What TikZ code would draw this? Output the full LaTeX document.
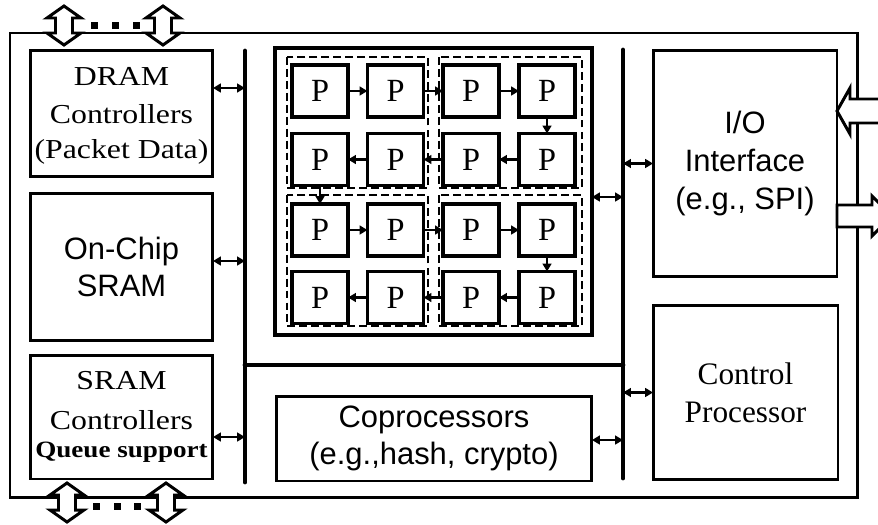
\documentclass[tikz,border=0pt]{standalone}
\usepackage{fontspec}
\setmainfont{Liberation Serif}
\newfontfamily\wideserif[FakeStretch=1.16]{Liberation Serif}
\newfontfamily\arialfont{Liberation Sans}
\usetikzlibrary{arrows.meta}

\begin{document}
\begin{tikzpicture}[x=0.02cm, y=-0.02cm,
  box/.style={draw, line width=1.7pt, inner sep=0pt, outer sep=0pt, align=center},
  serif/.style={font=\wideserif\fontsize{15.6}{20.7}\selectfont},
  sans/.style={font=\arialfont\fontsize{17.6}{21.5}\selectfont},
  pbox/.style={draw, line width=1.9pt, inner sep=0pt, outer sep=0pt, minimum width=1.12cm, minimum height=1.04cm, font=\fontsize{18.4}{20}\selectfont},
  group/.style={draw, line width=1.6pt, dash pattern=on 4.5pt off 2.3pt},
  bus/.style={line width=2.8pt, line cap=round},
  link/.style={{Triangle[length=4.5pt,width=5pt]}-{Triangle[length=4.5pt,width=5pt]}, line width=1.2pt},
  flow/.style={-{Triangle[length=4.5pt,width=5pt]}, line width=1.2pt},
  port/.style={draw, fill=white, line width=1.7pt, line join=miter}]
\useasboundingbox (0,0) rectangle (878,524);
\clip (0,0) rectangle (878,524);

% chip outline
\draw[line width=1.7pt] (10,33) rectangle (857,497);

% left column
\node[box, serif, minimum width=3.66cm, minimum height=2.54cm] (dram) at (121.5,113.5) {\rule{0pt}{13pt}DRAM\\[1pt]Controllers\\[-1pt](Packet Data)};
\node[box, sans, minimum width=3.66cm, minimum height=2.96cm] (sram) at (121.5,267) {On-Chip\\SRAM};
\node[box, serif, minimum width=3.66cm, minimum height=2.48cm] (sramc) at (121.5,417) {SRAM\\[2pt]Controllers\\[-5pt]{\fontsize{13.3}{15}\bfseries Queue support}};

% processor array
\node[box, line width=1.9pt, minimum width=6.34cm, minimum height=5.74cm] (parray) at (433.5,191.5) {};
\draw[group] (287,57) rectangle (428,188);
\draw[group] (439,57) rectangle (582,188);
\draw[group] (287,195) rectangle (428,326);
\draw[group] (439,195) rectangle (582,326);
\foreach \r/\y in {1/91,2/159.5,3/230,4/297.5}
  \foreach \c/\x in {1/320,2/395.5,3/471,4/547}
    \node[pbox] (p\r\c) at (\x,\y) {P};
\foreach \a/\b in {11/12,12/13,13/14,14/24,24/23,23/22,22/21,21/31,31/32,32/33,33/34,34/44,44/43,43/42,42/41}
  \draw[flow] (p\a) -- (p\b);

% coprocessors and right column
\node[box, sans, minimum width=6.32cm, minimum height=1.7cm] (copro) at (434,438.5) {Coprocessors\\(e.g.,hash, crypto)};
\node[box, sans, minimum width=3.68cm, minimum height=4.54cm] (io) at (745,163.5) {I/O\\Interface\\(e.g., SPI)};
\node[box, font=\fontsize{17.8}{21.5}\selectfont, minimum width=3.7cm, minimum height=3.5cm] (ctrl) at (745.5,392.5) {Control\\Processor};

% buses
\coordinate (lbus) at (245,51);
\coordinate (lbusend) at (245,482);
\coordinate (rbus) at (623,50);
\coordinate (rbusend) at (623,478);
\coordinate (hbus) at (245,365);
\draw[bus] (lbus) -- (lbusend);
\draw[bus] (rbus) -- (rbusend);
\draw[bus] (hbus) -- (hbus -| rbus);

% bus links
\draw[link] (dram.east |- 0,88) -- (lbus |- 0,88);
\draw[link] (sram.east |- 0,261) -- (lbus |- 0,261);
\draw[link] (sramc.east |- 0,437) -- (lbus |- 0,437);
\draw[link] (parray.east |- 0,197) -- (rbus |- 0,197);
\draw[link] (copro.east |- 0,440) -- (rbus |- 0,440);
\draw[link] (rbus |- io.west) -- (io.west);
\draw[link] (rbus |- ctrl.west) -- (ctrl.west);

% external ports
\foreach \cx in {64,163}
  \draw[port] (\cx,6) -- ++(17,12) -- ++(-8.5,0) -- ++(0,15) -- ++(8.5,0) -- ++(-17,12) -- ++(-17,-12) -- ++(8.5,0) -- ++(0,-15) -- ++(-8.5,0) -- cycle;
\foreach \cx in {67,166}
  \draw[port] (\cx,483) -- ++(17,12) -- ++(-8.5,0) -- ++(0,15) -- ++(8.5,0) -- ++(-17,12) -- ++(-17,-12) -- ++(8.5,0) -- ++(0,-15) -- ++(-8.5,0) -- cycle;
\foreach \dx in {94,115,136}
  \fill (\dx-3.5,22) rectangle ++(7,7);
\foreach \dx in {96,117,137}
  \fill (\dx-3.5,503) rectangle ++(7,7);
\draw[port] (io.east |- 0,111) -- ++(13,-23) -- ++(0,11) -- ++(30,0) -- ++(0,24) -- ++(-30,0) -- ++(0,11) -- cycle;
\draw[port] (io.east |- 0,205) -- ++(35,0) -- ++(0,-9) -- ++(20,20) -- ++(-20,20) -- ++(0,-9) -- ++(-35,0) -- cycle;
\end{tikzpicture}
\end{document}
